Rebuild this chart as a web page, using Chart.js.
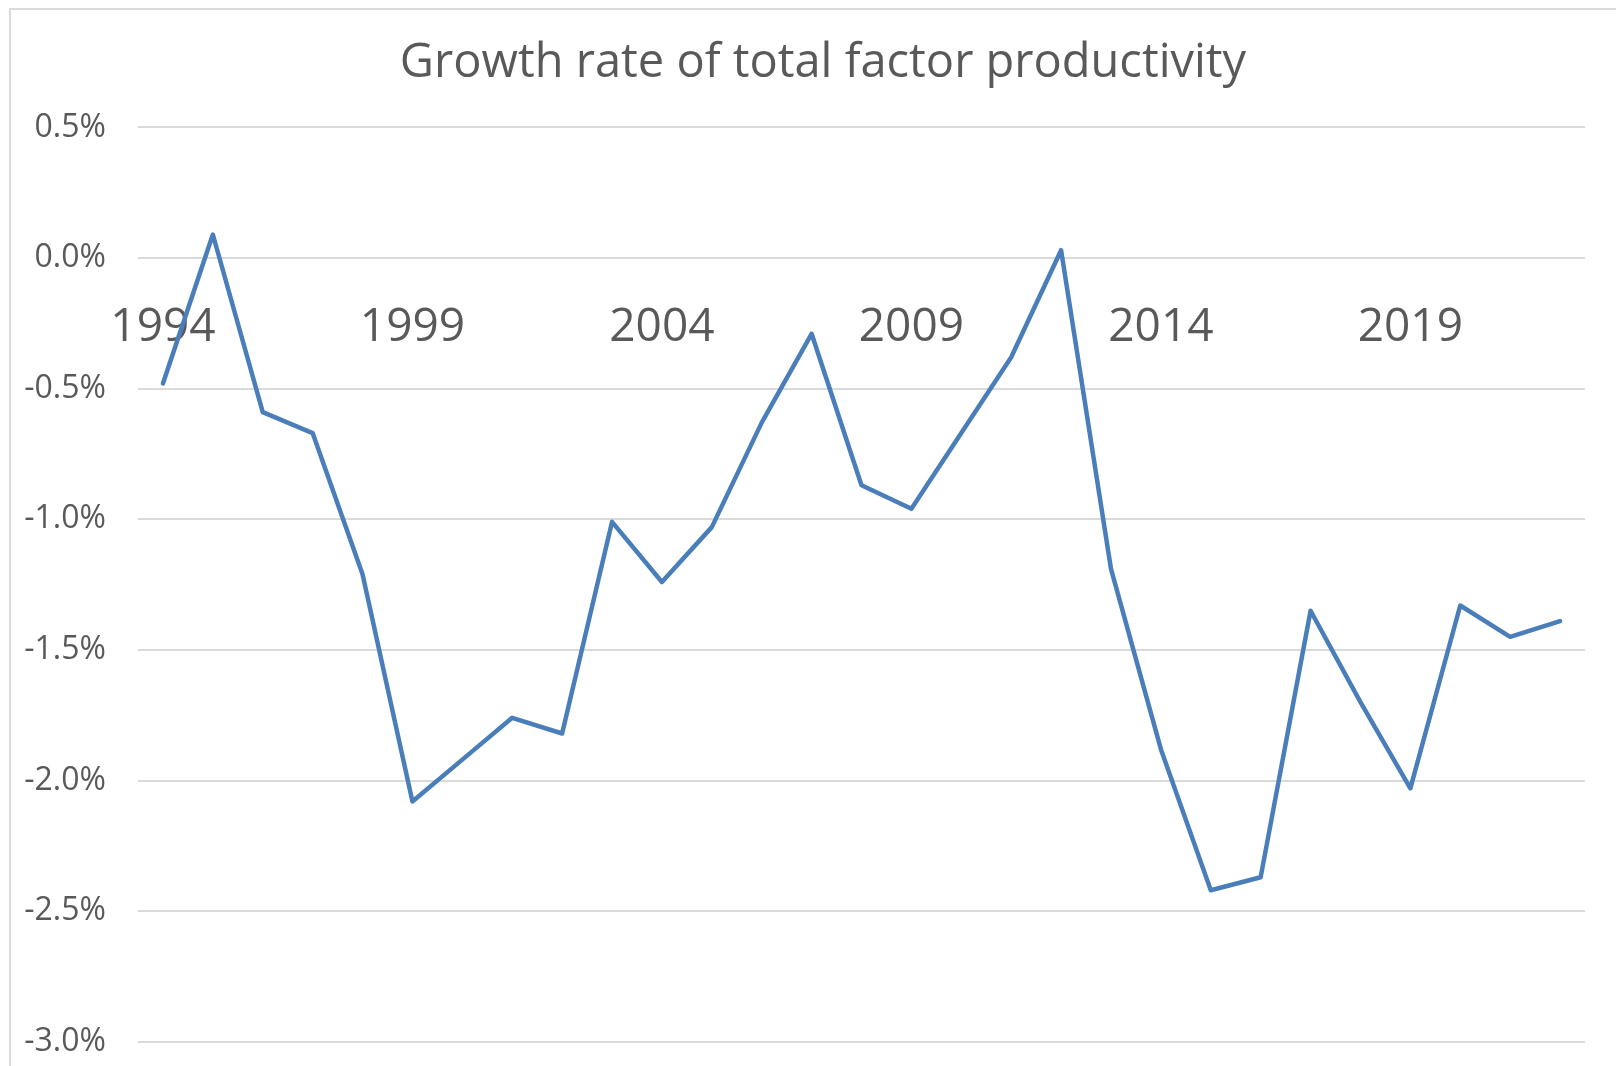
<!DOCTYPE html>
<html>
<head>
<meta charset="utf-8">
<script src="https://cdn.jsdelivr.net/npm/chart.js@4"></script>
<style>
  html, body { margin: 0; padding: 0; overflow: hidden; background: #fff; }
  #frame {
    position: absolute; left: 9px; top: 8px;
    width: 2000px; height: 2000px;
    border: 2px solid #d9d9d9;
  }
  #graf { position: absolute; left: 0; top: 0; }
</style>
</head>
<body>
<div id="frame"></div>
<canvas id="graf" width="1646" height="1093"></canvas>
<script>
// Años y tasa de crecimiento de la PTF (en %)
const anios = [1994, 1995, 1996, 1997, 1998, 1999, 2000, 2001, 2002, 2003,
               2004, 2005, 2006, 2007, 2008, 2009, 2010, 2011, 2012, 2013,
               2014, 2015, 2016, 2017, 2018, 2019, 2020, 2021, 2022];
const tasaPTF = [-0.48, 0.09, -0.59, -0.67, -1.21, -2.08, -1.92, -1.76, -1.82, -1.01,
                 -1.24, -1.03, -0.63, -0.29, -0.87, -0.96, -0.67, -0.38, 0.03, -1.19,
                 -1.88, -2.42, -2.37, -1.35, -1.70, -2.03, -1.33, -1.45, -1.39];
const ejeYMin = -3.0, ejeYMax = 0.5, ejeYPaso = 0.5;
const cadaN = 5; // etiqueta del eje X cada 5 años

const gris = '#595959';
const fuente = "'Open Sans', 'Noto Sans', sans-serif";

// El título se centra en todo el lienzo, no solo en la parte sin margen
const centrarTitulo = {
  id: 'centrarTitulo',
  afterLayout(chart) {
    chart.titleBlock.left = 0;
    chart.titleBlock.right = chart.width;
  }
};

const Conf = {
  type: 'line',
  data: {
    labels: anios.map(String),
    datasets: [{
      data: tasaPTF,
      borderColor: '#4a7ebb',
      borderWidth: 4.5,
      pointRadius: 0,
      tension: 0,
      borderCapStyle: 'round',
      borderJoinStyle: 'round',
    }]
  },
  options: {
    responsive: false,
    animation: false,
    layout: { padding: { left: 0, right: 61, top: 0, bottom: 0 } },
    scales: {
      x: {
        type: 'category',
        offset: true,
        position: { y: 0 },
        grid: { display: false },
        border: { display: false },
        ticks: {
          autoSkip: false,
          maxRotation: 0,
          padding: 34,
          color: gris,
          font: { family: fuente, size: 46 },
          callback: function(val, i) { return i % cadaN === 0 ? this.getLabelForValue(val) : ''; }
        }
      },
      y: {
        min: ejeYMin,
        max: ejeYMax,
        grid: { color: '#d9d9d9', lineWidth: 2, drawTicks: false },
        border: { display: false },
        afterFit: function(s) { s.width = 138; },
        ticks: {
          stepSize: ejeYPaso,
          padding: 32,
          color: gris,
          font: { family: fuente, size: 32 },
          callback: v => v.toFixed(1) + '%'
        }
      }
    },
    plugins: {
      legend: { display: false },
      tooltip: { enabled: false },
      title: {
        display: true,
        text: 'Growth rate of total factor productivity',
        color: gris,
        font: { family: fuente, size: 47, weight: 'normal' },
        padding: { top: 35, bottom: 36 }
      }
    }
  },
  plugins: [centrarTitulo]
};

window.Graf = new Chart(document.getElementById('graf'), Conf);
</script>
</body>
</html>
